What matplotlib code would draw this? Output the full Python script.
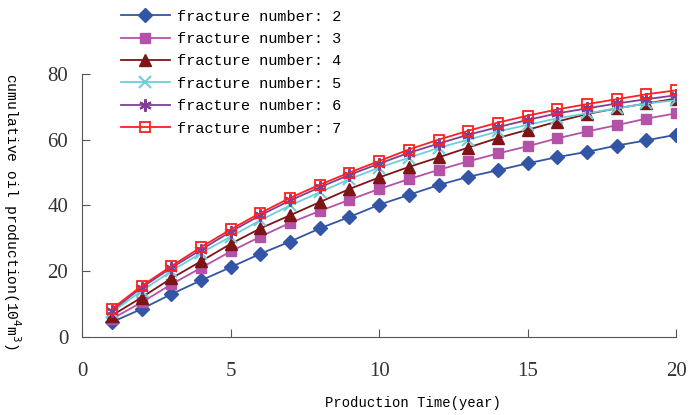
import matplotlib
matplotlib.use('Agg')
import matplotlib.pyplot as plt
import numpy as np

years = np.arange(1, 21)
frac2 = [4.5, 8.5, 13.0, 17.2, 21.2, 25.3, 29.0, 33.0, 36.5, 40.2,
         43.2, 46.2, 48.7, 50.7, 52.8, 54.7, 56.3, 58.2, 59.8, 61.5]
frac3 = [5.5, 10.5, 16.0, 21.0, 26.0, 30.5, 34.7, 38.3, 41.7, 45.0,
         48.0, 50.8, 53.4, 55.8, 58.0, 60.4, 62.5, 64.4, 66.4, 68.0]
frac4 = [6.5, 12.0, 17.8, 23.0, 28.3, 33.0, 37.0, 41.0, 45.0, 48.5,
         51.7, 54.6, 57.6, 60.5, 63.0, 65.5, 67.8, 69.5, 71.0, 72.5]
frac5 = [7.5, 14.0, 20.0, 25.5, 30.5, 35.5, 40.0, 44.0, 48.0, 51.5,
         54.5, 57.5, 60.0, 62.5, 64.5, 66.5, 68.0, 69.5, 71.0, 72.0]
frac6 = [8.0, 15.0, 21.0, 26.5, 32.0, 37.0, 41.5, 45.5, 49.3, 52.7,
         56.0, 58.8, 61.5, 63.8, 66.0, 68.0, 69.5, 71.0, 72.3, 73.5]
frac7 = [8.5, 15.5, 21.5, 27.3, 32.7, 37.7, 42.3, 46.3, 50.0, 53.5,
         57.0, 60.0, 62.7, 65.2, 67.3, 69.2, 70.8, 72.3, 73.8, 75.0]
series = [frac2, frac3, frac4, frac5, frac6, frac7]
labels = ['fracture number: %d' % n for n in range(2, 8)]

styles = [
    dict(color='#3355a5', marker='D', markersize=7, mfc='#3355a5'),
    dict(color='#b452a8', marker='s', markersize=7, mfc='#b452a8'),
    dict(color='#7d1416', marker='^', markersize=8, mfc='#7d1416'),
    dict(color='#6ccfd8', marker='x', markersize=8, mew=1.5),
    dict(color='#7f3f98', marker=(6, 2, 0), markersize=9, mew=1.5),
    dict(color='#ff2020', marker='s', markersize=7, mfc='none', mew=1.3),
]

fig = plt.figure(figsize=(6.9, 4.15), dpi=100)
ax = fig.add_axes([0.119, 0.188, 0.861, 0.634])

lines = []
for y, st, lab in zip(series, styles, labels):
    ln, = ax.plot(years, y, linewidth=1.3, label=lab, **st)
    lines.append(ln)

ax.set_xlim(0, 20)
ax.set_ylim(0, 80)
ax.set_xticks([0, 5, 10, 15, 20])
ax.set_yticks([0, 20, 40, 60, 80])
ax.spines['top'].set_visible(False)
ax.spines['right'].set_visible(False)
for s in ('left', 'bottom'):
    ax.spines[s].set_color('#555555')
ax.tick_params(direction='in', length=6, color='#555555', labelsize=15, pad=10)
for t in ax.get_xticklabels() + ax.get_yticklabels():
    t.set_fontfamily('Liberation Serif')
    t.set_color('#333333')
ax.tick_params(axis='x', pad=18)

mono = 'Liberation Mono'
fig.text(0.598, 0.028, 'Production Time(year)', ha='center', va='center',
         fontsize=10, family=mono)
fig.text(0.017, 0.49, 'cumulative oil production(10$^4$m$^3$)', ha='center',
         va='center', rotation=270, fontsize=10.5, family=mono)

fig.legend(handles=lines, loc='upper left', bbox_to_anchor=(0.155, 1.01),
           frameon=False, prop={'family': mono, 'size': 11},
           handlelength=3.2, labelspacing=0.55, handletextpad=0.5)

fig.savefig('out.png', dpi=100)
